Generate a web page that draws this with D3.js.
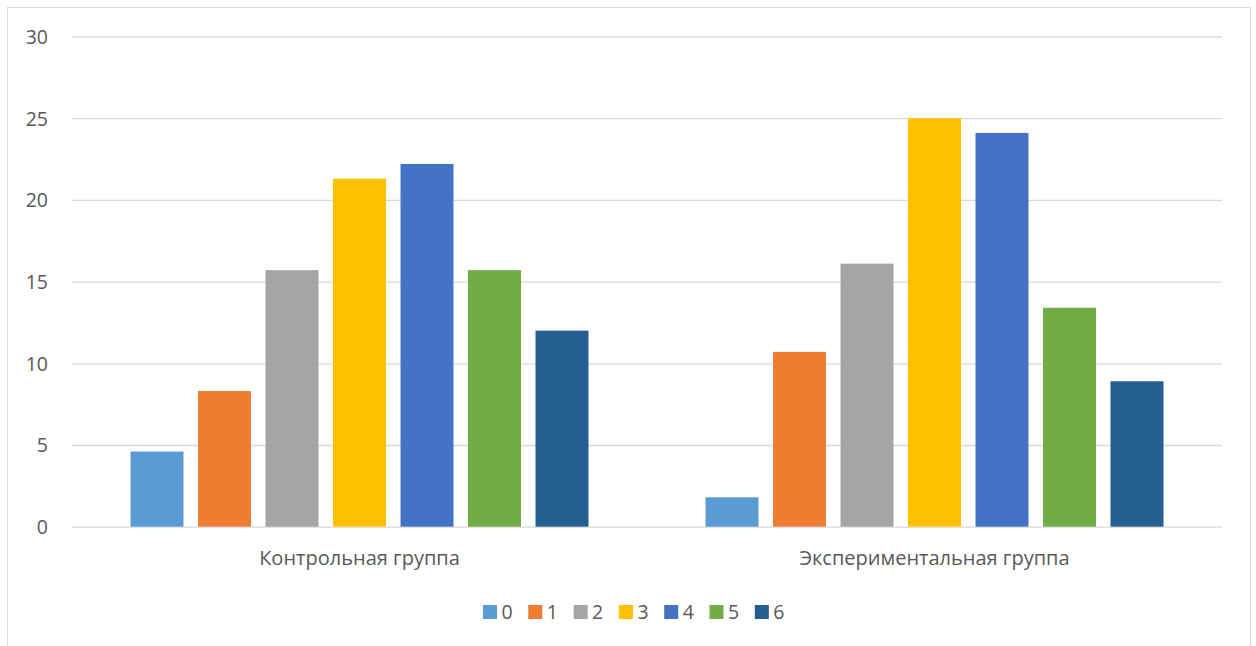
<!DOCTYPE html>
<html><head><meta charset="utf-8">
<script src="https://cdn.jsdelivr.net/npm/d3@7"></script>
<style>body{margin:0;background:#fff;} svg{display:block;}</style>
</head><body>
<svg id="chart" width="1256" height="646"></svg>
<script>
const groups = ["Контрольная группа", "Экспериментальная группа"];
const seriesNames = ["0", "1", "2", "3", "4", "5", "6"];
const control = [4.6, 8.3, 15.7, 21.3, 22.2, 15.7, 12.0];
const experimental = [1.8, 10.7, 16.1, 25.0, 24.1, 13.4, 8.9];
const yTicks = [0, 5, 10, 15, 20, 25, 30];
const colors = ["#5B9BD5", "#ED7D31", "#A5A5A5", "#FFC000", "#4472C4", "#70AD47", "#255E91"];

(function () {
const seriesValues = [control, experimental];
const svg = d3.select("#chart");
const font = "'Open Sans', 'Noto Sans', sans-serif";
const textColor = "#595959";

svg.append("rect").attr("x", 7.5).attr("y", 7.5).attr("width", 1243).attr("height", 660)
  .attr("fill", "#fff").attr("stroke", "#d9d9d9").attr("stroke-width", 1);

const pLeft = 72, pRight = 1222, pTop = 36.5, pBottom = 526.7;
const y = d3.scaleLinear().domain([0, 30]).range([pBottom, pTop]);
const x0 = d3.scaleBand().domain(groups).range([pLeft, pRight]).padding(0);
const gw = x0.bandwidth();
const outer = 58.5;
const x1 = d3.scaleBand().domain(seriesNames).range([outer, gw - outer]).paddingInner(0.215).paddingOuter(0);

// gridlines
const yAxis = d3.axisLeft(y).tickValues(yTicks).tickSize(-(pRight - pLeft)).tickPadding(24).tickFormat(d3.format("d"));
const ga = svg.append("g").attr("transform", `translate(${pLeft},0)`).call(yAxis);
ga.select(".domain").remove();
ga.selectAll(".tick line").attr("stroke", "#d9d9d9").attr("stroke-width", 1.3);
ga.selectAll(".tick text").attr("fill", textColor).style("font-family", font).style("font-size", "19.5px").attr("dy", "0.35em");

// bars
groups.forEach((g, gi) => {
  const gg = svg.append("g").attr("transform", `translate(${x0(g)},0)`);
  gg.selectAll("rect").data(seriesValues[gi]).join("rect")
    .attr("x", (d, i) => x1(seriesNames[i]))
    .attr("width", x1.bandwidth())
    .attr("y", d => y(d))
    .attr("height", d => y(0) - y(d))
    .attr("fill", (d, i) => colors[i]);
});

// x axis labels
const xAxis = d3.axisBottom(x0).tickSize(0).tickPadding(24);
const gx = svg.append("g").attr("transform", `translate(0,${pBottom})`).call(xAxis);
gx.select(".domain").remove();
gx.selectAll(".tick text").attr("fill", textColor).style("font-family", font).style("font-size", "20px");

// legend
const legX = d3.scaleBand().domain(seriesNames).range([483, 483 + 45.3 * 7]);
const lg = svg.append("g");
seriesNames.forEach((s, i) => {
  const lx = legX(s);
  lg.append("rect").attr("x", lx).attr("y", 605).attr("width", 14).attr("height", 14).attr("fill", colors[i]);
  lg.append("text").attr("x", lx + 18.5).attr("y", 619).text(s)
    .attr("fill", textColor).style("font-family", font).style("font-size", "19.5px");
});
})();
</script>
</body></html>
